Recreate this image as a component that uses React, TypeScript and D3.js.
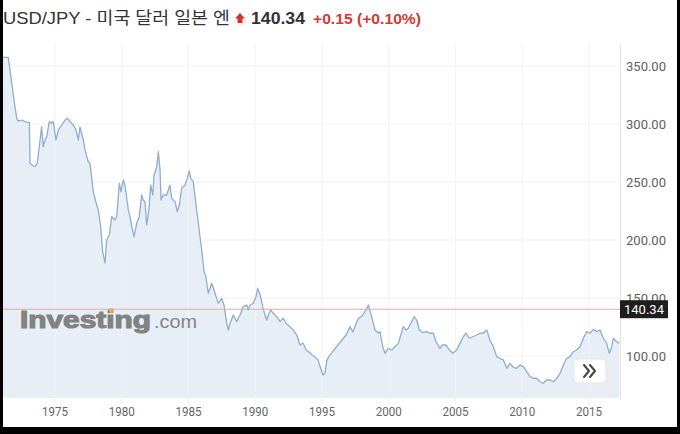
import React from "react";
import * as d3 from "d3";

// USD/JPY (year, rate), split by decade
const rates1970s: [number, number][] = [
  [1971.1, 357.5], [1971.5, 357.5], [1971.76, 335.1], [1972.0, 314.9], [1972.13, 305.2],
  [1972.23, 302.6], [1972.53, 303.4], [1972.83, 301.7], [1973.08, 301.1], [1973.13, 266.1],
  [1973.28, 264.7], [1973.5, 263.2], [1973.67, 266.1], [1973.82, 280.4], [1974.0, 297.7],
  [1974.12, 280.4], [1974.25, 286.2], [1974.38, 289.1], [1974.57, 302.0], [1974.75, 300.6],
  [1974.87, 302.0], [1975.07, 286.2], [1975.25, 294.8], [1975.5, 299.1], [1975.75, 303.4],
  [1975.95, 304.9], [1976.12, 302.0], [1976.37, 299.1], [1976.57, 294.8], [1976.75, 286.2],
  [1976.87, 297.4], [1977.12, 286.2], [1977.25, 277.6], [1977.49, 267.5], [1977.62, 266.1],
  [1977.87, 241.6], [1978.12, 230.2], [1978.24, 225.9], [1978.42, 211.5], [1978.57, 189.9],
  [1978.75, 180.2], [1978.87, 200.0], [1979.07, 204.3], [1979.25, 220.1], [1979.49, 217.2],
  [1979.62, 220.1], [1979.82, 248.9], [1979.94, 241.6],
];
const rates1980s: [number, number][] = [
  [1980.12, 251.7], [1980.24, 247.4], [1980.49, 225.9], [1980.62, 220.1], [1980.75, 211.5],
  [1980.92, 202.8], [1981.12, 214.4], [1981.31, 220.1], [1981.49, 238.8], [1981.61, 234.5],
  [1981.74, 233.0], [1981.87, 212.9], [1982.04, 227.3], [1982.17, 247.4], [1982.32, 238.8],
  [1982.42, 256.0], [1982.62, 263.2], [1982.74, 276.1], [1982.87, 260.3], [1982.94, 234.5],
  [1983.11, 238.8], [1983.37, 238.8], [1983.49, 243.1], [1983.61, 247.4], [1983.74, 235.9],
  [1983.99, 233.0], [1984.16, 224.4], [1984.31, 230.2], [1984.49, 244.6], [1984.74, 247.4],
  [1984.91, 253.2], [1985.06, 259.5], [1985.16, 253.2], [1985.36, 250.3], [1985.49, 237.3],
  [1985.61, 225.9], [1985.73, 215.5], [1985.86, 202.8], [1985.99, 191.4], [1986.16, 172.7],
  [1986.29, 169.0], [1986.48, 154.1], [1986.74, 162.7], [1986.99, 154.1], [1987.23, 145.4],
  [1987.49, 149.7], [1987.66, 144.0], [1987.86, 128.2], [1987.98, 122.4], [1988.11, 128.2],
  [1988.36, 135.3], [1988.61, 129.6], [1988.86, 135.3], [1989.1, 142.5], [1989.36, 144.0],
  [1989.48, 139.7], [1989.61, 144.0], [1989.85, 145.4],
];
const rates1990s: [number, number][] = [
  [1990.06, 151.1], [1990.18, 158.4], [1990.36, 152.6], [1990.56, 142.5], [1990.73, 135.3],
  [1990.86, 131.0], [1990.98, 135.3], [1991.16, 139.7], [1991.35, 136.8], [1991.61, 133.9],
  [1991.85, 129.6], [1992.1, 132.5], [1992.3, 128.2], [1992.6, 125.3], [1992.85, 122.4],
  [1993.11, 118.1], [1993.35, 109.5], [1993.58, 111.2], [1993.8, 105.2], [1994.03, 103.4],
  [1994.25, 100.9], [1994.48, 99.1], [1994.7, 96.6], [1994.89, 89.7], [1995.07, 83.6],
  [1995.22, 85.3], [1995.37, 96.6], [1995.6, 100.9], [1995.9, 105.2], [1996.2, 109.5],
  [1996.5, 113.8], [1996.8, 118.1], [1997.1, 125.3], [1997.32, 120.7], [1997.6, 129.6],
  [1997.77, 132.8], [1997.97, 133.9], [1998.22, 138.2], [1998.47, 144.0], [1998.72, 133.9],
  [1998.97, 122.4], [1999.2, 119.8], [1999.34, 121.0], [1999.55, 108.0], [1999.72, 102.3],
  [1999.97, 106.6],
];
const rates2000s: [number, number][] = [
  [2000.22, 105.2], [2000.47, 108.0], [2000.72, 110.9], [2000.9, 118.1], [2001.09, 125.3],
  [2001.29, 122.4], [2001.46, 123.9], [2001.72, 129.6], [2001.91, 133.9], [2002.09, 131.0],
  [2002.29, 122.4], [2002.54, 120.1], [2002.84, 121.0], [2003.09, 119.6], [2003.34, 119.6],
  [2003.54, 112.3], [2003.84, 106.6], [2004.04, 109.5], [2004.29, 109.5], [2004.54, 105.2],
  [2004.79, 102.3], [2005.09, 105.2], [2005.34, 110.9], [2005.58, 116.6], [2005.79, 119.6],
  [2006.03, 115.3], [2006.29, 116.6], [2006.59, 118.1], [2006.84, 119.6], [2007.08, 119.6],
  [2007.34, 122.4], [2007.58, 113.8], [2007.83, 108.0], [2008.09, 99.4], [2008.33, 98.0],
  [2008.58, 96.6], [2008.84, 89.4], [2009.08, 93.7], [2009.33, 90.3], [2009.58, 89.4],
  [2009.83, 92.2],
];
const rates2010s: [number, number][] = [
  [2010.08, 90.8], [2010.33, 86.5], [2010.58, 82.2], [2010.83, 80.8], [2011.08, 80.8],
  [2011.33, 77.8], [2011.58, 76.5], [2011.83, 79.3], [2012.08, 79.3], [2012.33, 77.8],
  [2012.58, 80.8], [2012.83, 85.1], [2013.08, 92.2], [2013.33, 98.0], [2013.58, 99.4],
  [2013.83, 103.7], [2014.08, 105.2], [2014.33, 108.0], [2014.58, 115.3], [2014.83, 121.0],
  [2015.07, 119.6], [2015.33, 123.0], [2015.58, 121.0], [2015.82, 122.4], [2016.07, 115.3],
  [2016.33, 110.9], [2016.52, 102.3], [2016.7, 108.0], [2016.82, 115.3], [2017.07, 112.3],
  [2017.27, 110.9],
];

const yTicks = [100, 150, 200, 250, 300, 350];
const xTicks = [1975, 1980, 1985, 1990, 1995, 2000, 2005, 2010, 2015];
const lastPrice = 140.34;
const titleText = "USD/JPY - 미국 달러 일본 엔";
const priceText = "140.34";
const changeText = "+0.15 (+0.10%)";

const W = 680;
const H = 434;
const plotLeft = 3;
const plotRight = 620;
const plotTop = 44;
const plotBottom = 398;

export default function App() {
  const data = [...rates1970s, ...rates1980s, ...rates1990s, ...rates2000s, ...rates2010s];
  const x = d3.scaleLinear().domain([1975, 2015]).range([55, 589]);
  const y = d3.scaleLinear().domain([100, 350]).range([356, 66]);

  const line = d3
    .line<[number, number]>()
    .x((d) => x(d[0]))
    .y((d) => y(d[1]));
  const area = d3
    .area<[number, number]>()
    .x((d) => x(d[0]))
    .y0(plotBottom)
    .y1((d) => y(d[1]));

  const priceY = y(lastPrice);

  return (
    <svg
      width={W}
      height={H}
      style={{ position: "absolute", left: 0, top: 0, background: "#fff" }}
      fontFamily="Roboto, 'Noto Sans', sans-serif"
    >
      <rect x={0} y={0} width={W} height={H} fill="#fff" />

      {/* grid */}
      {yTicks.map((t) => (
        <line key={"gy" + t} x1={plotLeft} x2={plotRight} y1={y(t)} y2={y(t)} stroke="#f1f1f1" strokeWidth={1} />
      ))}
      {xTicks.map((t) => (
        <line key={"gx" + t} x1={x(t)} x2={x(t)} y1={plotTop} y2={plotBottom + 6} stroke="#efefef" strokeWidth={1} />
      ))}

      {/* area + line */}
      <path d={area(data) || ""} fill="#e8eef6" />
      {xTicks.map((t) => (
        <line key={"gx2" + t} x1={x(t)} x2={x(t)} y1={plotTop} y2={plotBottom} stroke="#ffffff" strokeOpacity={0.35} strokeWidth={1} />
      ))}

      {/* watermark */}
      <text x={20} y={328} fontFamily="Arial, 'Liberation Sans', sans-serif" fontWeight="bold" fontSize={23} fill="#828282" stroke="#828282" strokeWidth={1.1} textLength={131} lengthAdjust="spacingAndGlyphs">
        Investing
      </text>
      <text x={154} y={328} fontFamily="Arial, 'Liberation Sans', sans-serif" fontSize={18} fill="#858585" textLength={43} lengthAdjust="spacingAndGlyphs">
        .com
      </text>
      <circle cx={111.5} cy={310.5} r={2.4} fill="#f0a850" />

      <path d={line(data) || ""} fill="none" stroke="#8eaed0" strokeWidth={1.3} strokeLinejoin="round" />

      {/* price line */}
      <line x1={plotLeft} x2={plotRight} y1={priceY} y2={priceY} stroke="#e9a9a4" strokeWidth={1} />

      {/* right axis */}
      <line x1={plotRight + 0.5} x2={plotRight + 0.5} y1={plotTop} y2={plotBottom + 2} stroke="#e4e4e4" strokeWidth={1} />
      {yTicks.map((t) => (
        <text key={"ty" + t} x={626} y={y(t) + 4.5} fontSize={12.5} fill="#5f5f5f" textLength={40} lengthAdjust="spacingAndGlyphs">
          {t.toFixed(2)}
        </text>
      ))}
      <rect x={620} y={priceY - 9} width={48} height={18} fill="#1e1e1e" />
      <text x={644} y={priceY + 4.5} fontSize={13} fill="#ffffff" textAnchor="middle" textLength={40} lengthAdjust="spacingAndGlyphs">
        {lastPrice.toFixed(2)}
      </text>

      {/* x labels */}
      {xTicks.map((t) => (
        <text key={"tx" + t} x={x(t)} y={416} fontSize={13.5} fill="#666" textAnchor="middle" textLength={26} lengthAdjust="spacingAndGlyphs">
          {t}
        </text>
      ))}

      {/* scroll button */}
      <rect x={574} y={359} width={32} height={24} rx={4} fill="#ffffff" stroke="#e6e6e6" strokeWidth={1} />
      <polyline points="584,365 589,371 584,377" fill="none" stroke="#444" strokeWidth={2} strokeLinecap="round" strokeLinejoin="round" />
      <polyline points="590,365 595,371 590,377" fill="none" stroke="#444" strokeWidth={2} strokeLinecap="round" strokeLinejoin="round" />

      {/* title */}
      <text x={3} y={23.5} fontFamily="Arial, 'Liberation Sans', 'Noto Sans CJK KR', sans-serif" fontSize={16.5} fill="#333" textLength={227} lengthAdjust="spacingAndGlyphs">
        {titleText}
      </text>
      <path d="M240,13 L245,18.5 L242.5,18.5 L242.5,23 L237.5,23 L237.5,18.5 L235,18.5 Z" fill="#d9322b" />
      <text x={251} y={23.5} fontFamily="Arial, 'Liberation Sans', sans-serif" fontWeight="bold" fontSize={16.5} fill="#333" textLength={54} lengthAdjust="spacingAndGlyphs">
        {priceText}
      </text>
      <text x={313} y={23.5} fontFamily="Arial, 'Liberation Sans', sans-serif" fontWeight="bold" fontSize={14.5} fill="#d33a31" textLength={108} lengthAdjust="spacingAndGlyphs">
        {changeText}
      </text>

      {/* frame */}
      <rect x={0} y={0} width={3} height={H} fill="#000" />
      <rect x={677} y={0} width={3} height={H} fill="#000" />
      <rect x={0} y={427} width={W} height={7} fill="#000" />
    </svg>
  );
}
